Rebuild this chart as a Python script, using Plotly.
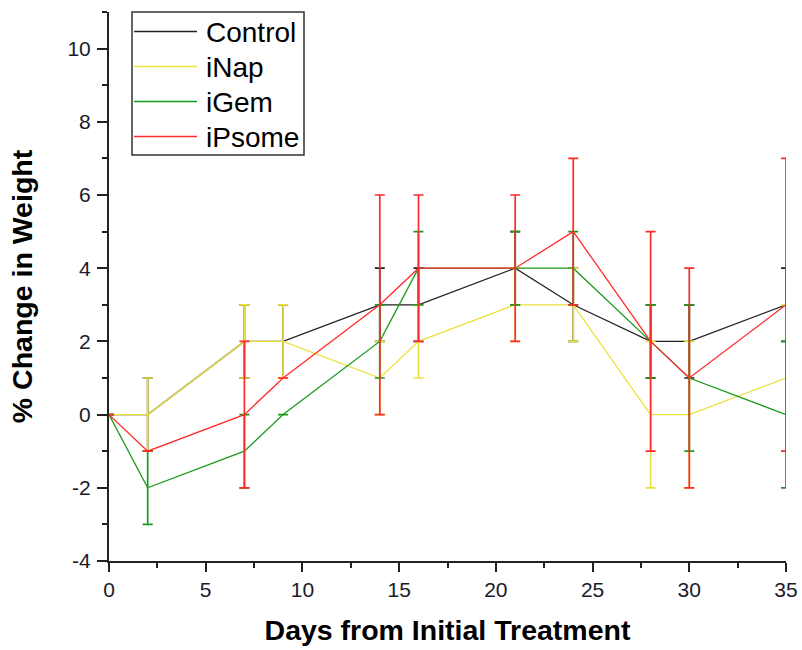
import plotly.graph_objects as go

days = [0, 2, 7, 9, 14, 16, 21, 24, 28, 30, 35]

control = [0, 0, 2, 2, 3, 3, 4, 3, 2, 2, 3]
control_err = [0, 1, 1, 1, 1, 1, 1, 1, 1, 1, 1]

inap = [0, 0, 2, 2, 1, 2, 3, 3, 0, 0, 1]
inap_err = [0, 1, 1, 1, 1, 1, 1, 1, 2, 2, 2]

igem = [0, -2, -1, 0, 2, 4, 4, 4, 2, 1, 0]
igem_err = [0, 1, 1, 0, 1, 1, 1, 1, 1, 2, 2]

ipsome = [0, -1, 0, 1, 3, 4, 4, 5, 2, 1, 3]
ipsome_err = [0, 0, 2, 0, 3, 2, 2, 2, 3, 3, 4]

names = ["Control", "iNap", "iGem", "iPsome"]
colors = ["#222222", "#ece23e", "#1a9a1a", "#ff2a2a"]
values = [control, inap, igem, ipsome]
errors = [control_err, inap_err, igem_err, ipsome_err]

x_ticks = [0, 5, 10, 15, 20, 25, 30, 35]
y_ticks = [-4, -2, 0, 2, 4, 6, 8, 10]

# plot-area geometry in pixels (for placing the legend box)
W, H = 802, 650
L, R, T, B = 109, 16, 12, 89
PW, PH = W - L - R, H - T - B


def px(x):
    return (x - L) / PW


def py(y):
    return (H - B - y) / PH


fig = go.Figure()
for name, vals, errs, color in zip(names, values, errors, colors):
    fig.add_trace(go.Scatter(
        x=days, y=vals, name=name, mode="lines", showlegend=False,
        line=dict(color=color, width=1.3),
        error_y=dict(type="data", array=errs, visible=True,
                     color=color, thickness=1.7, width=5),
    ))

# manual legend box
shapes = [dict(type="rect", xref="paper", yref="paper",
               x0=px(132), x1=px(304), y0=py(155), y1=py(12),
               line=dict(color="#333333", width=1.5), fillcolor="white", layer="above")]
annotations = []
row_y = [31.5, 66.5, 101.5, 136.5]
for name, color, ry in zip(names, colors, row_y):
    shapes.append(dict(type="line", xref="paper", yref="paper",
                       x0=px(134), x1=px(197), y0=py(ry), y1=py(ry),
                       line=dict(color=color, width=1.3), layer="above"))
    annotations.append(dict(xref="paper", yref="paper", x=px(204), y=py(ry + 1),
                            xanchor="left", yanchor="middle", showarrow=False,
                            text=name,
                            font=dict(family="Liberation Sans, Arial, sans-serif",
                                      size=28, color="#000000")))

axis_font = dict(family="Liberation Sans, Arial, sans-serif", size=21, color="#1a1a2a")
title_font = dict(family="Liberation Sans, Arial, sans-serif", size=28.5, color="#000000")

fig.update_layout(
    width=W, height=H,
    margin=dict(l=L, r=R, t=T, b=B),
    paper_bgcolor="white", plot_bgcolor="white",
    showlegend=False,
    shapes=shapes, annotations=annotations,
    xaxis=dict(
        range=[0, 35], tickvals=x_ticks, ticktext=[str(v) for v in x_ticks],
        showline=True, linecolor="#222222", linewidth=2, automargin=False,
        ticks="outside", ticklen=9, tickwidth=2, tickcolor="#222222",
        minor=dict(dtick=2.5, ticks="outside", ticklen=5, tickwidth=2, tickcolor="#222222"),
        showgrid=False, zeroline=False, tickfont=axis_font,
        title=dict(text="<b>Days from Initial Treatment</b>", font=title_font, standoff=20),
    ),
    yaxis=dict(
        range=[-4, 11], tickvals=y_ticks, ticktext=[str(v) for v in y_ticks],
        showline=True, linecolor="#222222", linewidth=2, automargin=False,
        ticks="outside", ticklen=10, tickwidth=2, tickcolor="#222222",
        ticklabelstandoff=2,
        minor=dict(dtick=1, ticks="outside", ticklen=5, tickwidth=2, tickcolor="#222222"),
        showgrid=False, zeroline=False, tickfont=axis_font,
        title=dict(text="<b>% Change in Weight</b>", font=title_font, standoff=26),
    ),
)

fig.write_html("out.html")
